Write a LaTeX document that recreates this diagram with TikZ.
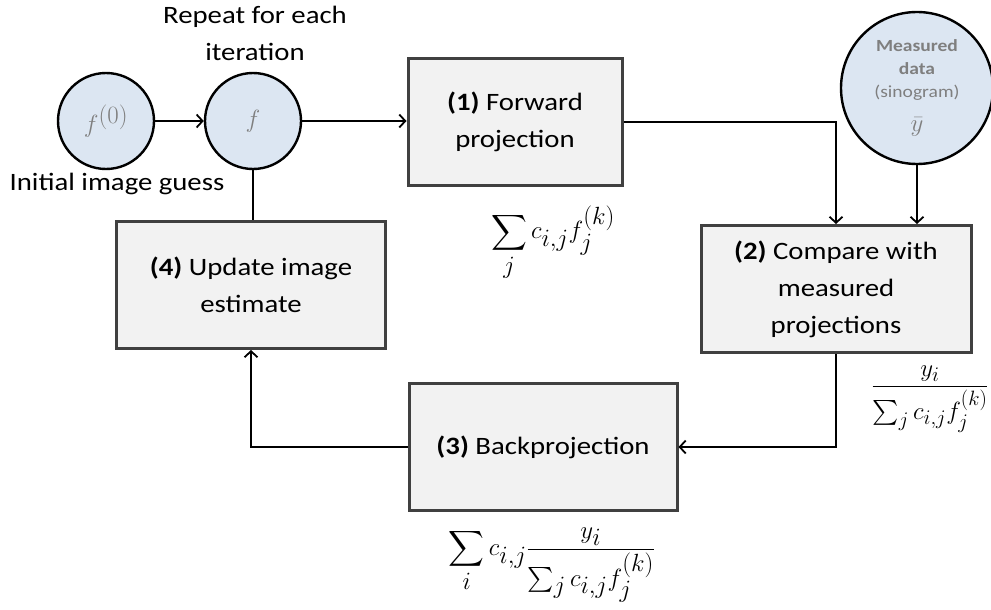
\documentclass[tikz,border=0pt]{standalone}
\usepackage{fontspec}
\setmainfont{Carlito}[FakeStretch=1.15]
\usepackage{amsmath}
\usetikzlibrary{arrows.meta}
\definecolor{circfill}{HTML}{DCE6F2}
\definecolor{boxfill}{HTML}{F2F2F2}
\definecolor{boxline}{HTML}{404040}
\definecolor{circtext}{HTML}{7F7F7F}

\begin{document}
\begin{tikzpicture}
  [x=1pt,y=-1pt,
   >={Straight Barb[length=6pt,width=13pt]},
   every node/.style={font=\fontsize{25}{37}\selectfont},
   circ/.style={circle,draw=black,line width=2.4pt,fill=circfill,minimum size=96pt,inner sep=0pt,text=circtext,font=\fontsize{34}{34}\selectfont},
   stepbox/.style={rectangle,draw=boxline,line width=3pt,fill=boxfill,align=center,inner sep=0pt,minimum height=127pt},
   formula/.style={font=\fontsize{32}{32}\selectfont},
   conn/.style={line width=1.8pt}]
  \useasboundingbox (0,0) rectangle (991,610);

  % circles
  \node[circ] (f0) at (106,121) {$f^{(0)}$};
  \node[circ] (f) at (253,121) {$f$};
  \node[circ,minimum size=152pt,align=center,font=\fontsize{17}{23}\selectfont] (meas) at (917,88)
    {\textbf{Measured}\\\textbf{data}\\(sinogram)\\[11pt]\fontsize{28}{23}\selectfont$\bar{y}$};

  % labels
  \node (init) at (117,184) {Initial image guess};
  \node[align=center] (repeat) at (255,33) {Repeat for each\\iteration};

  % steps
  \node[stepbox,minimum width=214pt] (fwd) at (515,122) {\textbf{(1)} Forward\\projection};
  \node[stepbox,minimum width=270pt] (cmp) at (836,289) {\textbf{(2)} Compare with\\measured\\projections};
  \node[stepbox,minimum width=268pt] (back) at (543,447) {\textbf{(3)} Backprojection};
  \node[stepbox,minimum width=269pt] (upd) at (251,285) {\textbf{(4)} Update image\\estimate};

  % formulas
  \node[formula,font=\fontsize{35}{35}\selectfont] (sumfwd) at (553,243) {$\displaystyle\sum_j c_{i,j} f_j^{(k)}$};
  \node[formula] (ratio) at (930,399) {$\displaystyle\frac{y_i}{\sum_j c_{i,j} f_j^{(k)}}$};
  \node[formula,font=\fontsize{34}{34}\selectfont] (sumback) at (552,565) {$\displaystyle\sum_i c_{i,j}\frac{y_i}{\sum_j c_{i,j} f_j^{(k)}}$};

  % connectors
  \draw[conn,->] (f0) -- (f);
  \draw[conn,->] (f.east) -- (f.east -| fwd.west);
  \draw[conn] (f.south) -- (f.south |- upd.north);
  \draw[conn,->] (fwd.east) -| (cmp.north);
  \draw[conn,->] (meas.south) -- (meas.south |- cmp.north);
  \draw[conn,->] (cmp.south) |- (back.east);
  \draw[conn,->] (back.west) -| (upd.south);
\end{tikzpicture}
\end{document}
